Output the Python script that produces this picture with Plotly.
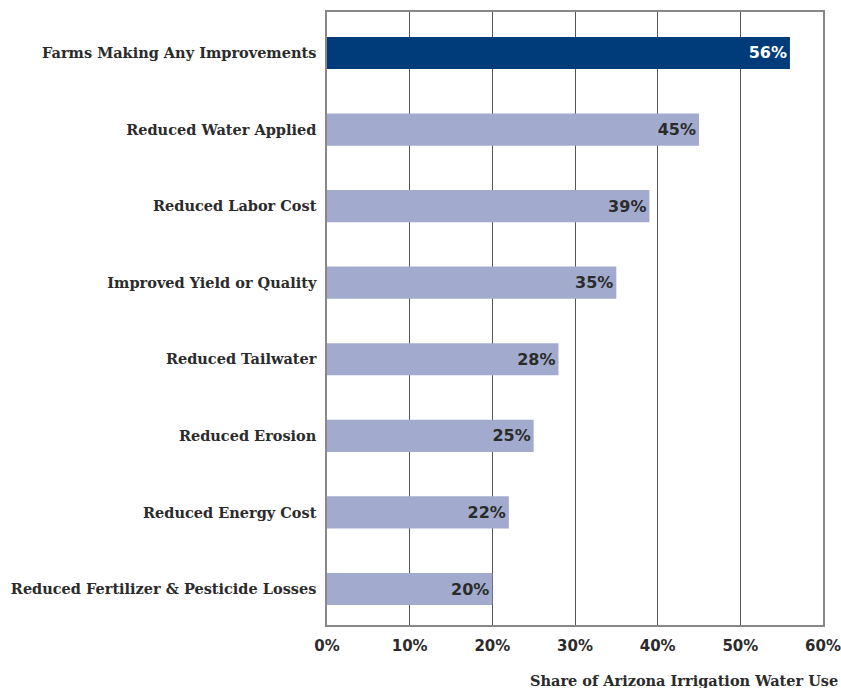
import plotly.graph_objects as go

categories = [
    "Farms Making Any Improvements",
    "Reduced Water Applied",
    "Reduced Labor Cost",
    "Improved Yield or Quality",
    "Reduced Tailwater",
    "Reduced Erosion",
    "Reduced Energy Cost",
    "Reduced Fertilizer & Pesticide Losses",
]
values = [56, 45, 39, 35, 28, 25, 22, 20]
tick_vals = [0, 10, 20, 30, 40, 50, 60]
tick_text = ["0%", "10%", "20%", "30%", "40%", "50%", "60%"]
x_title = "Share of Arizona Irrigation Water Use"

colors = ["#003b7a"] + ["#a2abcd"] * (len(values) - 1)
text_colors = ["#ffffff"] + ["#2b2b2b"] * (len(values) - 1)

fig = go.Figure(go.Bar(
    y=categories,
    x=values,
    orientation="h",
    marker=dict(color=colors, line=dict(width=0)),
    width=0.42,
    text=[f"{v}%" for v in values],
    texttemplate="<b>%{text}</b>",
    textposition="inside",
    insidetextanchor="end",
    textangle=0,
    insidetextfont=dict(family="DejaVu Sans", size=16, color=text_colors),
    cliponaxis=False,
))

fig.update_layout(
    width=841, height=688,
    margin=dict(l=327, r=18, t=12, b=63, autoexpand=False),
    plot_bgcolor="white", paper_bgcolor="white",
    showlegend=False,
    uniformtext=dict(minsize=8, mode="show"),
    xaxis=dict(
        range=[0, 60], tickvals=tick_vals,
        ticktext=[f"<b>{t}</b>" for t in tick_text],
        showgrid=True, gridcolor="#555555", gridwidth=1,
        showline=True, linecolor="#888888", linewidth=1.5, mirror=True,
        ticks="", zeroline=False, automargin=False, ticklabelstandoff=6,
        tickfont=dict(family="DejaVu Sans", size=15, color="#2b2b2b"),
    ),
    yaxis=dict(
        categoryorder="array", categoryarray=categories,
        tickvals=categories,
        ticktext=[f"<b>{c}</b>" for c in categories],
        range=[7.47, -0.535],
        showline=True, linecolor="#888888", linewidth=1.5, mirror=True,
        ticks="", showgrid=False, automargin=False, ticklabelstandoff=6,
        tickfont=dict(family="DejaVu Serif", size=14.5, color="#2b2b2b"),
    ),
    annotations=[dict(
        text=f"<b>{x_title}</b>", xref="paper", yref="paper",
        x=513 / 496, y=0, xanchor="right", yanchor="middle", yshift=-55,
        showarrow=False,
        font=dict(family="DejaVu Serif", size=14.5, color="#2b2b2b"),
    )],
)

fig.write_html(
    "out.html",
    config={"displayModeBar": False},
    post_script="document.body.style.margin='0';document.body.style.overflow='hidden';",
)
